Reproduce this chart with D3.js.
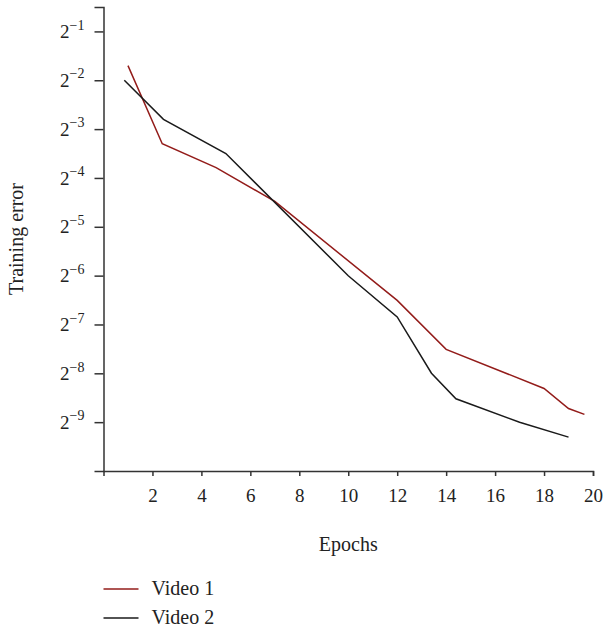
<!DOCTYPE html>
<html>
<head>
<meta charset="utf-8">
<script src="https://cdn.jsdelivr.net/npm/d3@7"></script>
<style>
  body { margin: 0; background: #fff; }
  text { font-family: "Liberation Serif", "DejaVu Serif", serif; fill: #222; }
</style>
</head>
<body>
<div id="chart"></div>
<script>
// values (training error, log2 scale)
var video1Epochs = [1, 2.4, 4.6, 7, 12, 14, 18, 19, 19.65];
var video1Error = [0.3078, 0.1015, 0.0723, 0.0448, 0.0110, 0.00549, 0.00315, 0.00237, 0.00218];

var video2Epochs = [0.85, 2.45, 5, 10, 12, 13.4, 14.4, 17, 19];
var video2Error = [0.25, 0.1436, 0.0884, 0.0156, 0.0087, 0.00391, 0.00272, 0.00195, 0.00158];

var xTicks = [2, 4, 6, 8, 10, 12, 14, 16, 18, 20];
var yExponents = [-1, -2, -3, -4, -5, -6, -7, -8, -9];

var seriesNames = ["Video 1", "Video 2"];
var seriesColors = ["#931c1a", "#1a1a1a"];

// set the dimensions and margins of the graph
var margin = {top: 7, right: 10, bottom: 160, left: 103.5},
    width = 593 - margin.left,
    height = 471 - margin.top;

var svg = d3.select("#chart")
  .append("svg")
    .attr("width", 603)
    .attr("height", 631)
  .append("g")
    .attr("transform", "translate(" + margin.left + "," + margin.top + ")");

var x = d3.scaleLinear()
  .domain([0, 20])
  .range([0, width]);

var y = d3.scaleLog()
  .base(2)
  .domain([Math.pow(2, -10), Math.pow(2, -0.5)])
  .range([height, 0]);

// X axis
var xAxis = svg.append("g")
  .attr("transform", "translate(0," + height + ")")
  .call(d3.axisBottom(x)
    .tickValues(xTicks)
    .tickSizeOuter(0)
    .tickSize(5)
    .tickPadding(13));
xAxis.selectAll("text").style("font-size", "19px").attr("fill", "#222");

// Y axis with 2^n labels
var yAxis = svg.append("g")
  .call(d3.axisLeft(y)
    .tickValues(yExponents.map(function(e) { return Math.pow(2, e); }))
    .tickSizeOuter(0)
    .tickSize(9)
    .tickPadding(10)
    .tickFormat(""));
yAxis.selectAll(".tick text").each(function(d) {
  var t = d3.select(this).attr("fill", "#222").style("font-size", "19px");
  t.append("tspan").text("2");
  t.append("tspan")
    .attr("dy", "-0.6em")
    .style("font-size", "14px")
    .text("\u2212" + Math.abs(Math.round(Math.log2(d))));
});

svg.selectAll(".domain, .tick line")
  .attr("stroke", "#333")
  .attr("stroke-width", 1.5);

// axis titles
svg.append("text")
  .attr("transform", "translate(" + (width / 2) + "," + (551 - margin.top) + ")")
  .attr("text-anchor", "middle")
  .style("font-size", "20px")
  .text("Epochs");

svg.append("text")
  .attr("transform", "translate(" + (23 - margin.left) + "," + (height / 2) + ") rotate(-90)")
  .attr("text-anchor", "middle")
  .style("font-size", "20px")
  .text("Training error");

// lines
var line = d3.line()
  .x(function(d) { return x(d[0]); })
  .y(function(d) { return y(d[1]); });

var series = [
  d3.zip(video1Epochs, video1Error),
  d3.zip(video2Epochs, video2Error)
];

series.forEach(function(s, i) {
  svg.append("path")
    .datum(s)
    .attr("fill", "none")
    .attr("stroke", seriesColors[i])
    .attr("stroke-width", 1.5)
    .attr("d", line);
});

// legend
var legend = svg.append("g")
  .attr("transform", "translate(0," + (589 - margin.top) + ")");

seriesNames.forEach(function(name, i) {
  var g = legend.append("g").attr("transform", "translate(0," + (i * 29) + ")");
  g.append("line")
    .attr("x1", 0).attr("x2", 35)
    .attr("stroke", seriesColors[i])
    .attr("stroke-width", 1.5);
  g.append("text")
    .attr("x", 48)
    .attr("y", 6)
    .style("font-size", "20px")
    .text(name);
});
</script>
</body>
</html>
